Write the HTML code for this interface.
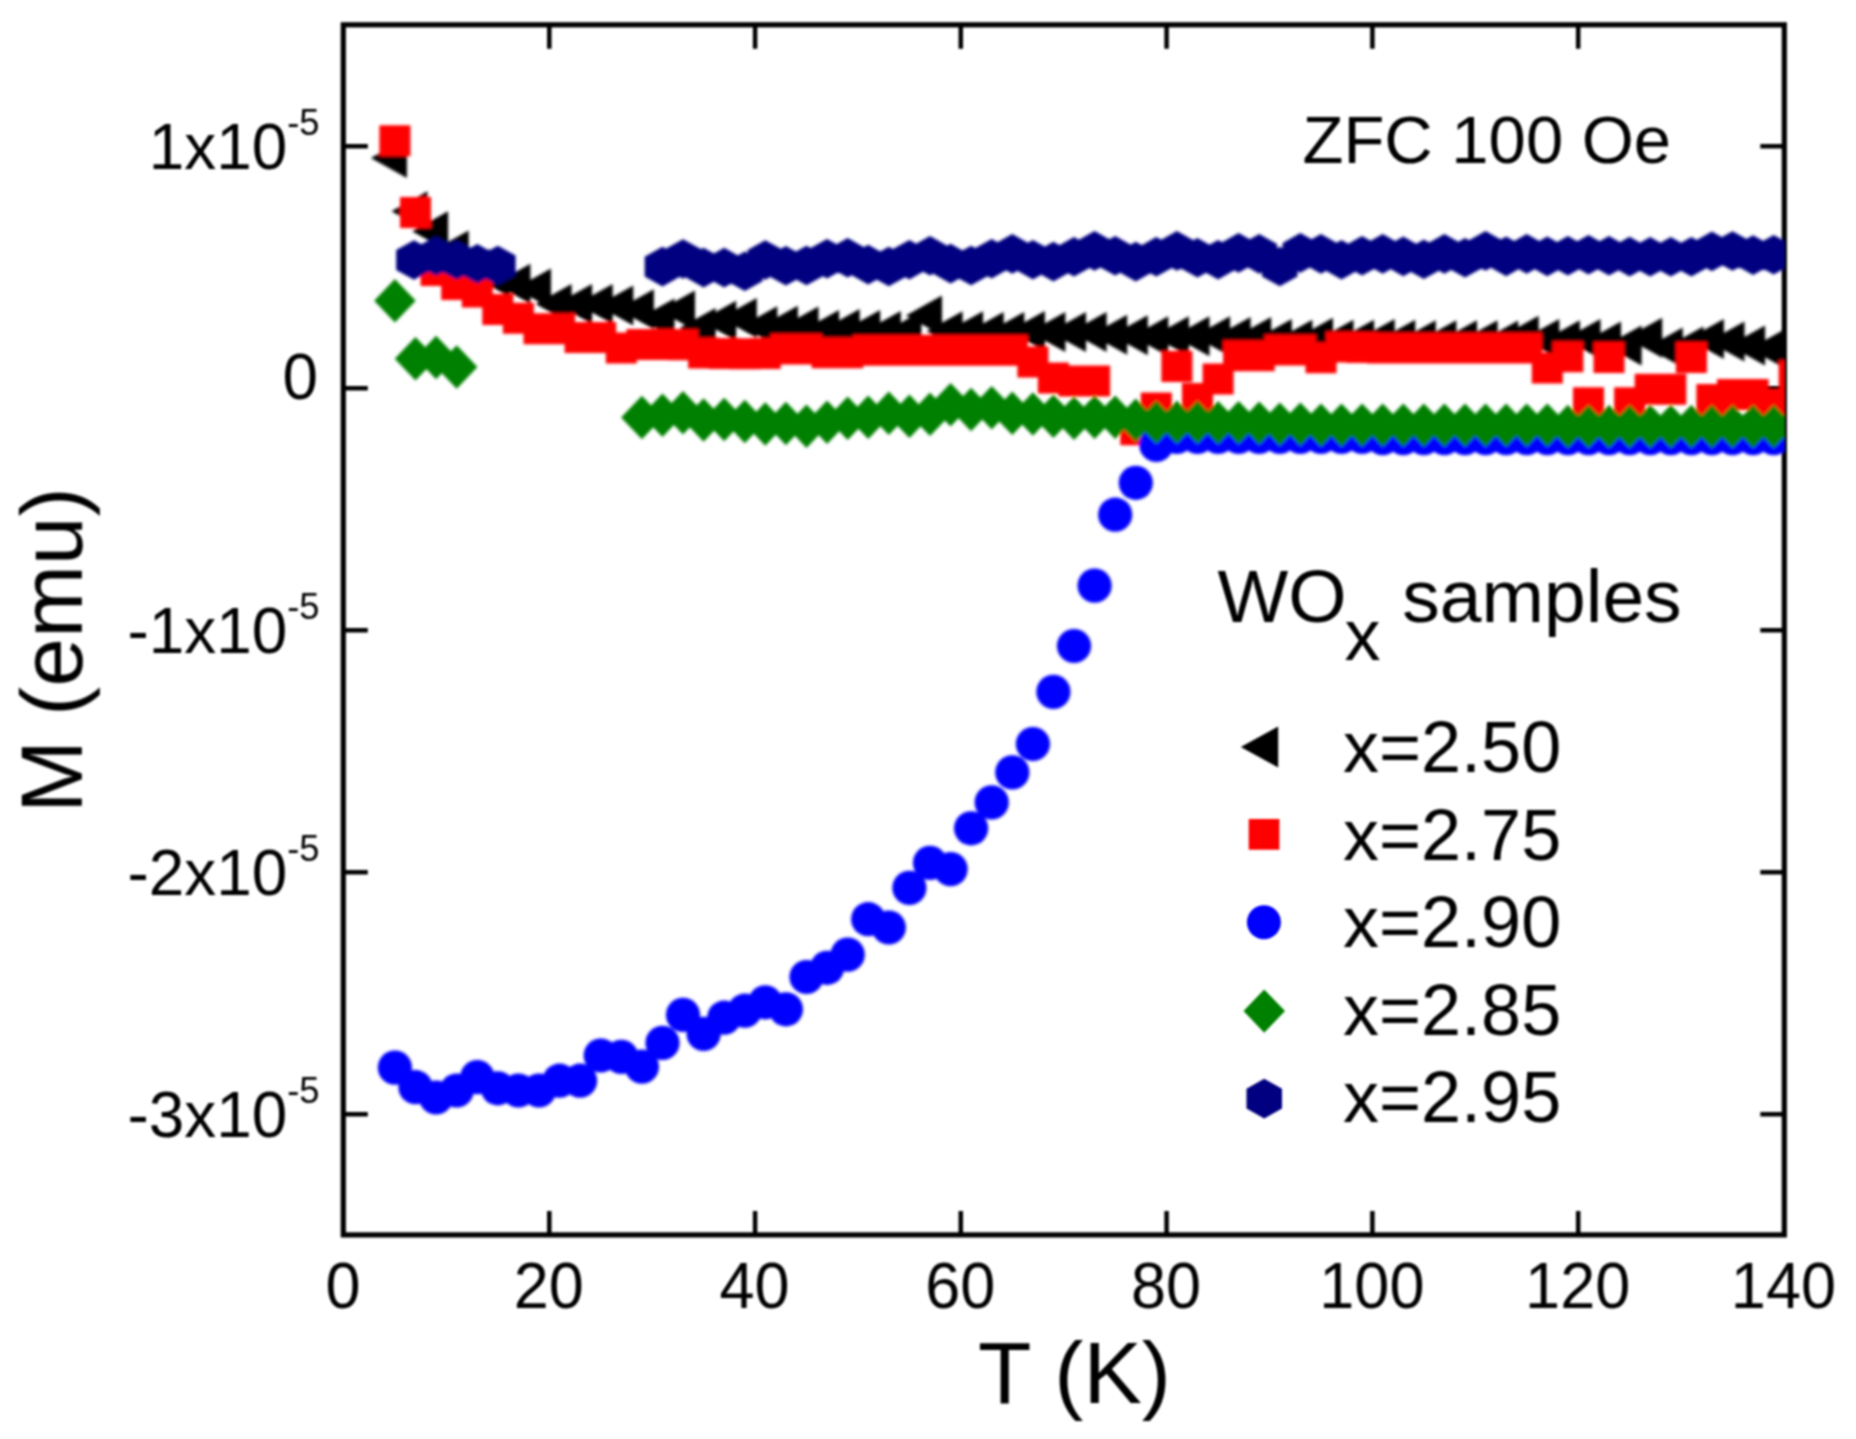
<!DOCTYPE html>
<html lang="en">
<head>
<meta charset="utf-8">
<title>WOx samples - ZFC 100 Oe magnetisation</title>
<style>
html,body{margin:0;padding:0;background:#fff;}
body{width:1856px;height:1439px;overflow:hidden;}
svg{display:block;}
text{font-family:"Liberation Sans",Arial,Helvetica,sans-serif;fill:#000;}
.tk{font-size:65px;}
.sup{font-size:37px;}
.lg{font-size:72px;}
.ax{font-size:87.5px;}
.zf{font-size:67px;}
.ti{font-size:75px;}
</style>
</head>
<body>
<svg width="1856" height="1439" viewBox="0 0 1856 1439">
<defs><clipPath id="plot"><rect x="343.3" y="24.8" width="1441" height="1210.1"/></clipPath>
<filter id="soft" x="-2%" y="-2%" width="104%" height="104%"><feGaussianBlur stdDeviation="0.9"/></filter>
<filter id="soft2" x="-2%" y="-2%" width="104%" height="104%"><feGaussianBlur stdDeviation="1.1"/></filter></defs>
<rect width="1856" height="1439" fill="#fff"/>
<g filter="url(#soft)">
<g stroke="#000" stroke-width="5.2" fill="none">
<rect x="343.3" y="24.8" width="1441" height="1210.1"/>
<path stroke-width="4.5" d="M549.3 1234.9v-24M549.3 24.8v24M755.1 1234.9v-24M755.1 24.8v24M960.8 1234.9v-24M960.8 24.8v24M1166.6 1234.9v-24M1166.6 24.8v24M1372.4 1234.9v-24M1372.4 24.8v24M1578.2 1234.9v-24M1578.2 24.8v24M343.3 146.2h24.5M1784.3 146.2h-24M343.3 388.2h24.5M1784.3 388.2h-24M343.3 630.2h24.5M1784.3 630.2h-24M343.3 872.2h24.5M1784.3 872.2h-24M343.3 1114.2h24.5M1784.3 1114.2h-24"/>
</g>
<g clip-path="url(#plot)"><g filter="url(#soft2)">
<path fill="#000" d="M370.9 158L406.9 138V178ZM391.5 211.3L427.5 191.3V231.3ZM412.1 231.3L448.1 211.3V251.3ZM432.7 250.5L468.7 230.5V270.5ZM453.3 269L489.3 249V289ZM473.8 277L509.8 257V297ZM494.4 283.8L530.4 263.8V303.8ZM515 288.5L551 268.5V308.5ZM535.6 304L571.6 284V324ZM556.1 304L592.1 284V324ZM576.7 304L612.7 284V324ZM597.3 305.5L633.3 285.5V325.5ZM617.9 309.3L653.9 289.3V329.3ZM638.5 318.5L674.5 298.5V338.5ZM659 310.5L695 290.5V330.5ZM679.6 328L715.6 308V348ZM700.2 320.8L736.2 300.8V340.8ZM720.8 318L756.8 298V338ZM741.3 326.3L777.3 306.3V346.3ZM761.9 325.8L797.9 305.8V345.8ZM782.5 326.6L818.5 306.6V346.6ZM803.1 329.9L839.1 309.9V349.9ZM823.7 329L859.7 309V349ZM844.2 329.9L880.2 309.9V349.9ZM864.8 330.9L900.8 310.9V350.9ZM885.4 331.3L921.4 311.3V351.3ZM906 315.4L942 295.4V335.4ZM926.6 331.3L962.6 311.3V351.3ZM947.1 331.3L983.1 311.3V351.3ZM967.7 331.9L1003.7 311.9V351.9ZM988.3 331.9L1024.3 311.9V351.9ZM1008.9 330.9L1044.9 310.9V350.9ZM1029.4 331.9L1065.4 311.9V351.9ZM1050 331.9L1086 311.9V351.9ZM1070.6 331.9L1106.6 311.9V351.9ZM1091.2 334.8L1127.2 314.8V354.8ZM1111.8 335.2L1147.8 315.2V355.2ZM1132.3 336.2L1168.3 316.2V356.2ZM1152.9 336.2L1188.9 316.2V356.2ZM1173.5 336.2L1209.5 316.2V356.2ZM1194.1 336.2L1230.1 316.2V356.2ZM1214.6 337.1L1250.6 317.1V357.1ZM1235.2 337.1L1271.2 317.1V357.1ZM1255.8 339.1L1291.8 319.1V359.1ZM1276.4 339.7L1312.4 319.7V359.7ZM1297 337.7L1333 317.7V357.7ZM1317.5 339.7L1353.5 319.7V359.7ZM1338.1 339.7L1374.1 319.7V359.7ZM1358.7 339.1L1394.7 319.1V359.1ZM1379.3 339.7L1415.3 319.7V359.7ZM1399.8 340.3L1435.8 320.3V360.3ZM1420.4 340.3L1456.4 320.3V360.3ZM1441 340.3L1477 320.3V360.3ZM1461.6 340.3L1497.6 320.3V360.3ZM1482.2 340.6L1518.2 320.6V360.6ZM1502.7 335.8L1538.7 315.8V355.8ZM1523.3 339.1L1559.3 319.1V359.1ZM1543.9 340.3L1579.9 320.3V360.3ZM1564.5 339.1L1600.5 319.1V359.1ZM1585 341.6L1621 321.6V361.6ZM1605.6 345.5L1641.6 325.5V365.5ZM1626.2 337.7L1662.2 317.7V357.7ZM1646.8 347.5L1682.8 327.5V367.5ZM1667.4 346.5L1703.4 326.5V366.5ZM1687.9 339.1L1723.9 319.1V359.1ZM1708.5 341.6L1744.5 321.6V361.6ZM1729.1 345.5L1765.1 325.5V365.5ZM1749.7 348.7L1785.7 328.7V368.7ZM1770.2 345L1806.2 325V365Z"/>
<path fill="#f00" d="M379.4 125.3h31v31h-31ZM400 197h31v31h-31ZM420.6 255h31v31h-31ZM441.2 269h31v31h-31ZM461.8 276.5h31v31h-31ZM482.3 294h31v31h-31ZM502.9 302.8h31v31h-31ZM523.5 313.2h31v31h-31ZM544.1 313.2h31v31h-31ZM564.6 322h31v31h-31ZM585.2 322h31v31h-31ZM605.8 332.6h31v31h-31ZM626.4 329h31v31h-31ZM647 329h31v31h-31ZM667.5 329.3h31v31h-31ZM688.1 337.5h31v31h-31ZM708.7 338h31v31h-31ZM729.3 338.3h31v31h-31ZM749.8 338h31v31h-31ZM770.4 333.5h31v31h-31ZM791 333.5h31v31h-31ZM811.6 337.3h31v31h-31ZM832.2 337.3h31v31h-31ZM852.7 334.8h31v31h-31ZM873.3 334.8h31v31h-31ZM893.9 334.8h31v31h-31ZM914.5 334.8h31v31h-31ZM935.1 334.8h31v31h-31ZM955.6 334.8h31v31h-31ZM976.2 334.8h31v31h-31ZM996.8 334.8h31v31h-31ZM1017.4 346.5h31v31h-31ZM1037.9 362.5h31v31h-31ZM1058.5 365.5h31v31h-31ZM1079.1 365.5h31v31h-31ZM1120.3 414.2h31v31h-31ZM1140.8 392.6h31v31h-31ZM1161.4 350.9h31v31h-31ZM1182 382.9h31v31h-31ZM1202.6 363.6h31v31h-31ZM1223.1 340.2h31v31h-31ZM1243.7 340.2h31v31h-31ZM1264.3 334.4h31v31h-31ZM1284.9 334.4h31v31h-31ZM1305.5 342.2h31v31h-31ZM1326 331.5h31v31h-31ZM1346.6 332h31v31h-31ZM1367.2 332.5h31v31h-31ZM1387.8 332.5h31v31h-31ZM1408.3 332.5h31v31h-31ZM1428.9 332.5h31v31h-31ZM1449.5 332.5h31v31h-31ZM1470.1 332.5h31v31h-31ZM1490.7 332.5h31v31h-31ZM1511.2 332.5h31v31h-31ZM1531.8 352.5h31v31h-31ZM1552.4 341.2h31v31h-31ZM1573 387.3h31v31h-31ZM1593.5 342h31v31h-31ZM1614.1 387.3h31v31h-31ZM1634.7 373.8h31v31h-31ZM1655.3 373.8h31v31h-31ZM1675.9 342.1h31v31h-31ZM1696.4 384.1h31v31h-31ZM1717 379.1h31v31h-31ZM1737.6 379.1h31v31h-31ZM1758.2 388.7h31v31h-31ZM1778.7 360.3h31v31h-31Z"/>
<g fill="#00f"><circle cx="394.9" cy="1067.6" r="17.1"/><circle cx="415.5" cy="1087.2" r="17.1"/><circle cx="436.1" cy="1097.5" r="17.1"/><circle cx="456.7" cy="1090.5" r="17.1"/><circle cx="477.3" cy="1077.1" r="17.1"/><circle cx="497.8" cy="1088.3" r="17.1"/><circle cx="518.4" cy="1090.5" r="17.1"/><circle cx="539" cy="1090.5" r="17.1"/><circle cx="559.6" cy="1080.7" r="17.1"/><circle cx="580.1" cy="1080.7" r="17.1"/><circle cx="600.7" cy="1055.5" r="17.1"/><circle cx="621.3" cy="1056.9" r="17.1"/><circle cx="641.9" cy="1066.7" r="17.1"/><circle cx="662.5" cy="1042.9" r="17.1"/><circle cx="683" cy="1014.9" r="17.1"/><circle cx="703.6" cy="1033.9" r="17.1"/><circle cx="724.2" cy="1017.7" r="17.1"/><circle cx="744.8" cy="1010.7" r="17.1"/><circle cx="765.3" cy="1002.3" r="17.1"/><circle cx="785.9" cy="1009.3" r="17.1"/><circle cx="806.5" cy="977" r="17.1"/><circle cx="827.1" cy="967.8" r="17.1"/><circle cx="847.7" cy="954.6" r="17.1"/><circle cx="868.2" cy="919.2" r="17.1"/><circle cx="888.8" cy="927.5" r="17.1"/><circle cx="909.4" cy="887.9" r="17.1"/><circle cx="930" cy="862.9" r="17.1"/><circle cx="950.6" cy="869.1" r="17.1"/><circle cx="971.1" cy="828.3" r="17.1"/><circle cx="991.7" cy="802.4" r="17.1"/><circle cx="1012.3" cy="772.4" r="17.1"/><circle cx="1032.9" cy="744" r="17.1"/><circle cx="1053.4" cy="691.9" r="17.1"/><circle cx="1074" cy="646" r="17.1"/><circle cx="1094.6" cy="585.6" r="17.1"/><circle cx="1115.2" cy="514.7" r="17.1"/><circle cx="1135.8" cy="482.8" r="17.1"/><circle cx="1156.3" cy="445" r="17.1"/><circle cx="1176.9" cy="437" r="17.1"/><circle cx="1197.5" cy="437" r="17.1"/><circle cx="1218.1" cy="437" r="17.1"/><circle cx="1238.6" cy="437" r="17.1"/><circle cx="1259.2" cy="437" r="17.1"/><circle cx="1279.8" cy="437" r="17.1"/><circle cx="1300.4" cy="437" r="17.1"/><circle cx="1321" cy="437" r="17.1"/><circle cx="1341.5" cy="437" r="17.1"/><circle cx="1362.1" cy="437" r="17.1"/><circle cx="1382.7" cy="438.2" r="17.1"/><circle cx="1403.3" cy="438.2" r="17.1"/><circle cx="1423.8" cy="438.2" r="17.1"/><circle cx="1444.4" cy="438.2" r="17.1"/><circle cx="1465" cy="438.2" r="17.1"/><circle cx="1485.6" cy="438.2" r="17.1"/><circle cx="1506.2" cy="438.2" r="17.1"/><circle cx="1526.7" cy="438.2" r="17.1"/><circle cx="1547.3" cy="438.2" r="17.1"/><circle cx="1567.9" cy="438.2" r="17.1"/><circle cx="1588.5" cy="438.2" r="17.1"/><circle cx="1609" cy="438.2" r="17.1"/><circle cx="1629.6" cy="438.2" r="17.1"/><circle cx="1650.2" cy="438.2" r="17.1"/><circle cx="1670.8" cy="438.2" r="17.1"/><circle cx="1691.4" cy="438.2" r="17.1"/><circle cx="1711.9" cy="438.2" r="17.1"/><circle cx="1732.5" cy="438.2" r="17.1"/><circle cx="1753.1" cy="438.2" r="17.1"/><circle cx="1773.7" cy="438.2" r="17.1"/><circle cx="1794.2" cy="438.2" r="17.1"/></g>
<path fill="#008000" d="M374.2 300.8L394.9 279.1L415.7 300.8L394.9 322.6ZM394.8 358.8L415.5 337.1L436.3 358.8L415.5 380.6ZM415.4 357.5L436.1 335.8L456.9 357.5L436.1 379.2ZM435.9 367L456.7 345.2L477.4 367L456.7 388.8ZM621.1 417.5L641.9 395.8L662.6 417.5L641.9 439.2ZM641.7 415.3L662.5 393.6L683.2 415.3L662.5 437.1ZM662.3 412.8L683 391.1L703.8 412.8L683 434.6ZM682.9 420L703.6 398.2L724.4 420L703.6 441.8ZM703.4 419.5L724.2 397.8L744.9 419.5L724.2 441.2ZM724 421.5L744.8 399.8L765.5 421.5L744.8 443.2ZM744.6 424L765.3 402.2L786.1 424L765.3 445.8ZM765.2 423.5L785.9 401.8L806.7 423.5L785.9 445.2ZM785.8 426.1L806.5 404.4L827.3 426.1L806.5 447.9ZM806.3 422.2L827.1 400.4L847.8 422.2L827.1 443.9ZM826.9 418.3L847.7 396.6L868.4 418.3L847.7 440.1ZM847.5 417.3L868.2 395.6L889 417.3L868.2 439.1ZM868.1 413.4L888.8 391.6L909.6 413.4L888.8 435.1ZM888.6 416.4L909.4 394.6L930.1 416.4L909.4 438.1ZM909.2 414.4L930 392.6L950.7 414.4L930 436.1ZM929.8 404.7L950.6 382.9L971.3 404.7L950.6 426.4ZM950.4 409.5L971.1 387.8L991.9 409.5L971.1 431.2ZM971 407.6L991.7 385.9L1012.5 407.6L991.7 429.4ZM991.5 413.4L1012.3 391.6L1033 413.4L1012.3 435.1ZM1012.1 414L1032.9 392.2L1053.6 414L1032.9 435.8ZM1032.7 416.4L1053.4 394.6L1074.2 416.4L1053.4 438.1ZM1053.3 418.3L1074 396.6L1094.8 418.3L1074 440.1ZM1073.8 417.3L1094.6 395.6L1115.3 417.3L1094.6 439.1ZM1094.4 417.3L1115.2 395.6L1135.9 417.3L1115.2 439.1ZM1115 420.2L1135.8 398.4L1156.5 420.2L1135.8 441.9ZM1135.6 422.2L1156.3 400.4L1177.1 422.2L1156.3 443.9ZM1156.2 422.2L1176.9 400.4L1197.7 422.2L1176.9 443.9ZM1176.7 422.2L1197.5 400.4L1218.2 422.2L1197.5 443.9ZM1197.3 422.6L1218.1 400.9L1238.8 422.6L1218.1 444.4ZM1217.9 422.6L1238.6 400.9L1259.4 422.6L1238.6 444.4ZM1238.5 423.2L1259.2 401.4L1280 423.2L1259.2 444.9ZM1259 424.1L1279.8 402.4L1300.5 424.1L1279.8 445.9ZM1279.6 424.1L1300.4 402.4L1321.1 424.1L1300.4 445.9ZM1300.2 425.1L1321 403.4L1341.7 425.1L1321 446.9ZM1320.8 425.1L1341.5 403.4L1362.3 425.1L1341.5 446.9ZM1341.4 425.1L1362.1 403.4L1382.9 425.1L1362.1 446.9ZM1361.9 425.1L1382.7 403.4L1403.4 425.1L1382.7 446.9ZM1382.5 425.1L1403.3 403.4L1424 425.1L1403.3 446.9ZM1403.1 425.1L1423.8 403.4L1444.6 425.1L1423.8 446.9ZM1423.7 425.1L1444.4 403.4L1465.2 425.1L1444.4 446.9ZM1444.3 425.1L1465 403.4L1485.8 425.1L1465 446.9ZM1464.8 425.1L1485.6 403.4L1506.3 425.1L1485.6 446.9ZM1485.4 425.1L1506.2 403.4L1526.9 425.1L1506.2 446.9ZM1506 425.1L1526.7 403.4L1547.5 425.1L1526.7 446.9ZM1526.6 425.1L1547.3 403.4L1568.1 425.1L1547.3 446.9ZM1547.1 426.5L1567.9 404.8L1588.6 426.5L1567.9 448.2ZM1567.7 426.5L1588.5 404.8L1609.2 426.5L1588.5 448.2ZM1588.3 426.5L1609 404.8L1629.8 426.5L1609 448.2ZM1608.9 426.5L1629.6 404.8L1650.4 426.5L1629.6 448.2ZM1629.5 426.5L1650.2 404.8L1671 426.5L1650.2 448.2ZM1650 426.5L1670.8 404.8L1691.5 426.5L1670.8 448.2ZM1670.6 426.5L1691.4 404.8L1712.1 426.5L1691.4 448.2ZM1691.2 426.5L1711.9 404.8L1732.7 426.5L1711.9 448.2ZM1711.8 426.5L1732.5 404.8L1753.3 426.5L1732.5 448.2ZM1732.3 426.5L1753.1 404.8L1773.8 426.5L1753.1 448.2ZM1752.9 426.5L1773.7 404.8L1794.4 426.5L1773.7 448.2ZM1773.5 426.5L1794.2 404.8L1815 426.5L1794.2 448.2Z"/>
<path fill="#000080" d="M414 240.2L431.7 250.1V269.9L414 279.8L396.2 269.9V250.1ZM436.1 236.2L453.9 246.1V265.9L436.1 275.8L418.4 265.9V246.1ZM456.7 240.2L474.4 250.1V269.9L456.7 279.8L438.9 269.9V250.1ZM477.3 244L495 253.9V273.7L477.3 283.6L459.5 273.7V253.9ZM497.8 245.7L515.6 255.6V275.4L497.8 285.3L480.1 275.4V255.6ZM662.5 246.8L680.2 256.7V276.5L662.5 286.4L644.7 276.5V256.7ZM683 239.2L700.8 249.1V268.9L683 278.8L665.3 268.9V249.1ZM703.6 247.8L721.4 257.7V277.5L703.6 287.4L685.9 277.5V257.7ZM724.2 247.8L741.9 257.7V277.5L724.2 287.4L706.4 277.5V257.7ZM744.8 251.5L762.5 261.4V281.2L744.8 291.1L727 281.2V261.4ZM765.3 240.2L783.1 250.1V269.9L765.3 279.8L747.6 269.9V250.1ZM785.9 246L803.7 255.9V275.7L785.9 285.6L768.2 275.7V255.9ZM806.5 245.7L824.3 255.6V275.4L806.5 285.3L788.8 275.4V255.6ZM827.1 238.9L844.8 248.8V268.6L827.1 278.5L809.3 268.6V248.8ZM847.7 238L865.4 247.9V267.7L847.7 277.6L829.9 267.7V247.9ZM868.2 244.8L886 254.7V274.5L868.2 284.4L850.5 274.5V254.7ZM888.8 246.7L906.6 256.6V276.4L888.8 286.3L871.1 276.4V256.6ZM909.4 239.9L927.1 249.8V269.6L909.4 279.5L891.6 269.6V249.8ZM930 236L947.7 245.9V265.7L930 275.6L912.2 265.7V245.9ZM950.6 243.8L968.3 253.7V273.5L950.6 283.4L932.8 273.5V253.7ZM971.1 245.7L988.9 255.6V275.4L971.1 285.3L953.4 275.4V255.6ZM991.7 238.9L1009.5 248.8V268.6L991.7 278.5L974 268.6V248.8ZM1012.3 234.1L1030 244V263.8L1012.3 273.7L994.5 263.8V244ZM1032.9 239.9L1050.6 249.8V269.6L1032.9 279.5L1015.1 269.6V249.8ZM1053.4 241.8L1071.2 251.7V271.5L1053.4 281.4L1035.7 271.5V251.7ZM1074 237L1091.8 246.9V266.7L1074 276.6L1056.3 266.7V246.9ZM1094.6 231.1L1112.3 241V260.8L1094.6 270.7L1076.8 260.8V241ZM1115.2 236L1132.9 245.9V265.7L1115.2 275.6L1097.4 265.7V245.9ZM1135.8 241.8L1153.5 251.7V271.5L1135.8 281.4L1118 271.5V251.7ZM1156.3 237L1174.1 246.9V266.7L1156.3 276.6L1138.6 266.7V246.9ZM1176.9 231.1L1194.7 241V260.8L1176.9 270.7L1159.2 260.8V241ZM1197.5 238L1215.2 247.9V267.7L1197.5 277.6L1179.7 267.7V247.9ZM1218.1 239.9L1235.8 249.8V269.6L1218.1 279.5L1200.3 269.6V249.8ZM1238.6 233.1L1256.4 243V262.8L1238.6 272.7L1220.9 262.8V243ZM1259.2 234.1L1277 244V263.8L1259.2 273.7L1241.5 263.8V244ZM1279.8 246.7L1297.5 256.6V276.4L1279.8 286.3L1262 276.4V256.6ZM1300.4 233.1L1318.1 243V262.8L1300.4 272.7L1282.6 262.8V243ZM1321 234.1L1338.7 244V263.8L1321 273.7L1303.2 263.8V244ZM1341.5 239.9L1359.3 249.8V269.6L1341.5 279.5L1323.8 269.6V249.8ZM1362.1 236L1379.9 245.9V265.7L1362.1 275.6L1344.4 265.7V245.9ZM1382.7 234.1L1400.4 244V263.8L1382.7 273.7L1364.9 263.8V244ZM1403.3 236.6L1421 246.5V266.3L1403.3 276.2L1385.5 266.3V246.5ZM1423.8 239.5L1441.6 249.4V269.2L1423.8 279.1L1406.1 269.2V249.4ZM1444.4 234.1L1462.2 244V263.8L1444.4 273.7L1426.7 263.8V244ZM1465 238L1482.8 247.9V267.7L1465 277.6L1447.3 267.7V247.9ZM1485.6 231.1L1503.3 241V260.8L1485.6 270.7L1467.8 260.8V241ZM1506.2 236.6L1523.9 246.5V266.3L1506.2 276.2L1488.4 266.3V246.5ZM1526.7 234.1L1544.5 244V263.8L1526.7 273.7L1509 263.8V244ZM1547.3 236.6L1565.1 246.5V266.3L1547.3 276.2L1529.6 266.3V246.5ZM1567.9 236L1585.6 245.9V265.7L1567.9 275.6L1550.1 265.7V245.9ZM1588.5 235L1606.2 244.9V264.7L1588.5 274.6L1570.7 264.7V244.9ZM1609 236L1626.8 245.9V265.7L1609 275.6L1591.3 265.7V245.9ZM1629.6 236.8L1647.4 246.7V266.5L1629.6 276.4L1611.9 266.5V246.7ZM1650.2 237L1668 246.9V266.7L1650.2 276.6L1632.5 266.7V246.9ZM1670.8 237L1688.5 246.9V266.7L1670.8 276.6L1653 266.7V246.9ZM1691.4 237L1709.1 246.9V266.7L1691.4 276.6L1673.6 266.7V246.9ZM1711.9 231.6L1729.7 241.5V261.3L1711.9 271.2L1694.2 261.3V241.5ZM1732.5 231.2L1750.3 241.1V260.9L1732.5 270.8L1714.8 260.9V241.1ZM1753.1 235.3L1770.8 245.2V265L1753.1 274.9L1735.3 265V245.2ZM1773.7 235L1791.4 244.9V264.7L1773.7 274.6L1755.9 264.7V244.9ZM1794.2 235L1812 244.9V264.7L1794.2 274.6L1776.5 264.7V244.9Z"/>
</g></g>
<g transform="scale(0.97 1)">
<text class="tk" x="353.6" y="1308" text-anchor="middle">0</text>
<text class="tk" x="565.8" y="1308" text-anchor="middle">20</text>
<text class="tk" x="777.9" y="1308" text-anchor="middle">40</text>
<text class="tk" x="990" y="1308" text-anchor="middle">60</text>
<text class="tk" x="1202.2" y="1308" text-anchor="middle">80</text>
<text class="tk" x="1414.3" y="1308" text-anchor="middle">100</text>
<text class="tk" x="1626.5" y="1308" text-anchor="middle">120</text>
<text class="tk" x="1838.6" y="1308" text-anchor="middle">140</text>
</g>
<g transform="scale(0.983 1)">
<text class="tk" x="292.3" y="169.3" text-anchor="end">1x10</text><text class="sup" x="325" y="134.7" text-anchor="end">-5</text>
<text class="tk" x="292.3" y="653.3" text-anchor="end">-1x10</text><text class="sup" x="325" y="618.7" text-anchor="end">-5</text>
<text class="tk" x="292.3" y="895.3" text-anchor="end">-2x10</text><text class="sup" x="325" y="860.7" text-anchor="end">-5</text>
<text class="tk" x="292.3" y="1137.3" text-anchor="end">-3x10</text><text class="sup" x="325" y="1102.7" text-anchor="end">-5</text>
<text class="tk" x="323.5" y="398.6" text-anchor="end">0</text>
</g>
<text class="ax" x="1074.5" y="1403.3" text-anchor="middle">T (K)</text>
<text class="ax" transform="translate(81.8 650.2) rotate(-90)" text-anchor="middle">M (emu)</text>
<text class="zf" x="1302.5" y="163">ZFC 100 Oe</text>
<text class="ti" x="1217.5" y="622.2">WO<tspan class="lg" x="1344.6" y="660">x</tspan><tspan x="1381.5" y="622.2"> samples</tspan></text>
<path fill="#000" d="M1240.8 747L1278.2 726.6V767.4Z"/>
<path fill="#f00" d="M1248.7 819h30.7v30.7h-30.7Z"/>
<circle fill="#00f" cx="1263.9" cy="922.2" r="17"/>
<path fill="#008000" d="M1243.5 1011.1L1264.2 989.4L1285 1011.1L1264.2 1032.8Z"/>
<path fill="#000080" d="M1264.2 1078.8L1282 1088.7V1108.5L1264.2 1118.4L1246.5 1108.5V1088.7Z"/>
<text class="lg" x="1343" y="772">x=2.50</text>
<text class="lg" x="1343" y="859.5">x=2.75</text>
<text class="lg" x="1343" y="947.1">x=2.90</text>
<text class="lg" x="1343" y="1034.7">x=2.85</text>
<text class="lg" x="1343" y="1122.2">x=2.95</text>
</g>
</svg>
</body>
</html>
